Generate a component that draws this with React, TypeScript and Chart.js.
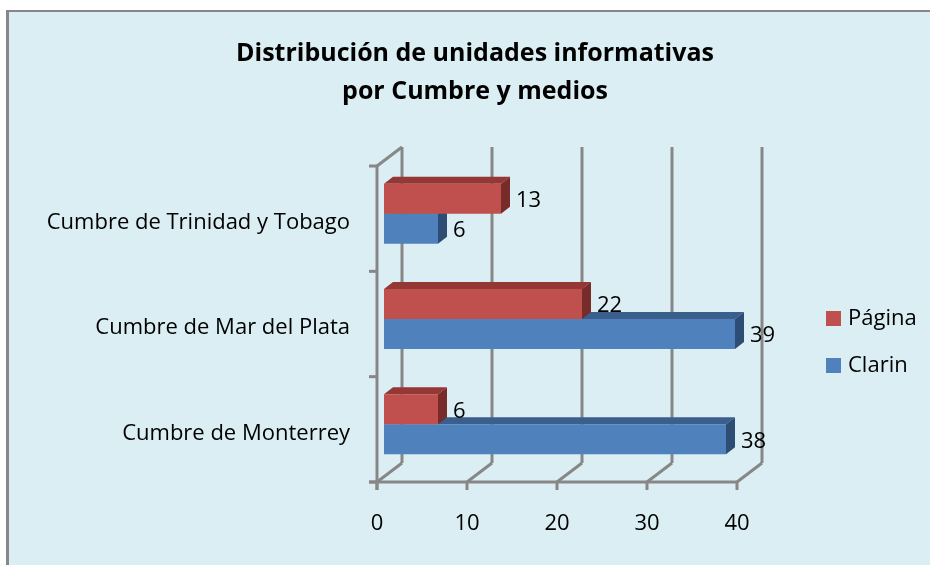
import React, { useEffect, useRef } from 'react';
import { Chart, registerables } from 'chart.js';

Chart.register(...registerables);

// ---- data ----
const categories = ['Cumbre de Trinidad y Tobago', 'Cumbre de Mar del Plata', 'Cumbre de Monterrey'];
const seriesNames = ['Página', 'Clarin'];
const paginaValues = [13, 22, 6];
const clarinValues = [6, 39, 38];
const xTicks = [0, 10, 20, 30, 40];
const titleLines = ['Distribución de unidades informativas', 'por Cumbre y medios'];

// ---- styles ----
const FONT = '"Open Sans", "Noto Sans", sans-serif';
const BG = '#DAEEF3';
const GRID = '#878787';
const FRONT_DX = -7;
const FRONT_DY = 5;
const DEPTH_DX = 25;
const DEPTH_DY = -19;
const BAR_DX = 9;
const BAR_DY = -7;
const faces = [
  { front: '#C0504D', top: '#953735', side: '#772C2A' },
  { front: '#4F81BD', top: '#3B5F8C', side: '#2E4D74' },
];

const framePlugin = {
  id: 'frame3d',
  beforeDraw(chart: any) {
    const ctx = chart.ctx;
    const W = chart.width;
    const H = chart.height;
    ctx.save();
    ctx.fillStyle = '#FFFFFF';
    ctx.fillRect(0, 0, W, H);
    ctx.fillStyle = BG;
    ctx.fillRect(9, 12, W - 9, H - 12);
    ctx.fillStyle = '#878787';
    ctx.fillRect(6, 10, 3, H - 10);
    ctx.fillRect(6, 10, W - 6, 2);

    // title
    ctx.fillStyle = '#000';
    ctx.font = `bold 25px ${FONT}`;
    ctx.textAlign = 'center';
    ctx.textBaseline = 'middle';
    ctx.fillText(titleLines[0], 475, 54);
    ctx.fillText(titleLines[1], 475, 92);

    // legend
    ctx.font = `22px ${FONT}`;
    ctx.textAlign = 'left';
    const ds = chart.data.datasets;
    const ly = [311, 358];
    ds.forEach((d: any, i: number) => {
      ctx.fillStyle = d.backgroundColor;
      ctx.fillRect(826, ly[i], 15, 15);
      ctx.fillStyle = '#000';
      ctx.fillText(d.label, 848, ly[i] + 8);
    });
    ctx.restore();
  },
  beforeDatasetsDraw(chart: any) {
    const ctx = chart.ctx;
    const xs = chart.scales.x;
    const area = chart.chartArea;
    const fx = (v: number) => xs.getPixelForValue(v) + FRONT_DX;
    const fb = area.bottom + FRONT_DY;
    const ft = area.top + FRONT_DY;
    ctx.save();
    ctx.strokeStyle = GRID;
    ctx.lineWidth = 3;
    ctx.lineCap = 'butt';
    const line = (x1: number, y1: number, x2: number, y2: number) => {
      ctx.beginPath();
      ctx.moveTo(x1, y1);
      ctx.lineTo(x2, y2);
      ctx.stroke();
    };
    // back wall gridlines + floor diagonals + front ticks
    xTicks.forEach((v) => {
      const x = fx(v);
      line(x + DEPTH_DX, ft + DEPTH_DY, x + DEPTH_DX, fb + DEPTH_DY);
      line(x, fb, x + DEPTH_DX, fb + DEPTH_DY);
      line(x, fb, x, fb + 8);
    });
    // front x axis
    line(fx(xTicks[0]) - 8, fb, fx(xTicks[xTicks.length - 1]), fb);
    // left wall
    const x0 = fx(xTicks[0]);
    line(x0, ft, x0, fb + 8);
    line(x0, ft, x0 + DEPTH_DX, ft + DEPTH_DY);
    const n = categories.length;
    const band = (area.bottom - area.top) / n;
    for (let k = 0; k <= n; k++) {
      const y = area.top + k * band + FRONT_DY;
      line(x0 - 8, y, x0, y);
    }

    // bar top and side faces (lower series first)
    const order = [1, 0];
    order.forEach((di) => {
      const meta = chart.getDatasetMeta(di);
      meta.data.forEach((bar: any) => {
        const p = bar.getProps(['x', 'y', 'base', 'height'], true);
        const x0b = p.base;
        const x1 = p.x;
        const yt = p.y - p.height / 2;
        const yb = p.y + p.height / 2;
        ctx.fillStyle = faces[di].top;
        ctx.beginPath();
        ctx.moveTo(x0b, yt);
        ctx.lineTo(x1, yt);
        ctx.lineTo(x1 + BAR_DX, yt + BAR_DY);
        ctx.lineTo(x0b + BAR_DX, yt + BAR_DY);
        ctx.closePath();
        ctx.fill();
        ctx.fillStyle = faces[di].side;
        ctx.beginPath();
        ctx.moveTo(x1, yt);
        ctx.lineTo(x1 + BAR_DX, yt + BAR_DY);
        ctx.lineTo(x1 + BAR_DX, yb + BAR_DY);
        ctx.lineTo(x1, yb);
        ctx.closePath();
        ctx.fill();
      });
    });
    ctx.restore();
  },
  afterDatasetsDraw(chart: any) {
    const ctx = chart.ctx;
    ctx.save();
    ctx.fillStyle = '#000';
    ctx.font = `22px ${FONT}`;
    ctx.textAlign = 'left';
    ctx.textBaseline = 'middle';
    chart.data.datasets.forEach((d: any, di: number) => {
      const meta = chart.getDatasetMeta(di);
      meta.data.forEach((bar: any, i: number) => {
        const p = bar.getProps(['x', 'y'], true);
        ctx.fillText(String(d.data[i]), p.x + 15, p.y + 2);
      });
    });
    ctx.restore();
  },
};

export default function App() {
  const ref = useRef<HTMLCanvasElement | null>(null);
  useEffect(() => {
    document.body.style.margin = '0';
    document.body.style.overflow = 'hidden';
    const canvas = ref.current!;
    const chart = new Chart(canvas, {
      type: 'bar',
      data: {
        labels: categories,
        datasets: [
          { label: seriesNames[0], data: paginaValues, backgroundColor: faces[0].front, borderWidth: 0 },
          { label: seriesNames[1], data: clarinValues, backgroundColor: faces[1].front, borderWidth: 0 },
        ],
      },
      options: {
        indexAxis: 'y',
        responsive: false,
        animation: false,
        devicePixelRatio: 1,
        categoryPercentage: 0.57,
        barPercentage: 1,
        layout: { padding: { top: 161, right: 186, left: 0, bottom: 0 } },
        plugins: {
          legend: { display: false },
          title: { display: false },
          tooltip: { enabled: false },
        },
        scales: {
          x: {
            type: 'linear',
            min: 0,
            max: 40,
            afterBuildTicks: (scale: any) => {
              scale.ticks = xTicks.map((v) => ({ value: v }));
            },
            grid: { display: false, drawTicks: false },
            border: { display: false },
            ticks: {
              font: { family: FONT, size: 22 },
              color: '#000',
              padding: 34,
              labelOffset: FRONT_DX,
            },
            afterFit: (scale: any) => {
              scale.height = 88;
            },
          },
          y: {
            type: 'category',
            grid: { display: false, drawTicks: false },
            border: { display: false },
            ticks: {
              font: { family: FONT, size: 22 },
              color: '#000',
              padding: 34,
              labelOffset: 9,
            },
            afterFit: (scale: any) => {
              scale.width = 384;
            },
          },
        },
      } as any,
      plugins: [framePlugin],
    });
    return () => chart.destroy();
  }, []);
  return <canvas ref={ref} width={930} height={565} style={{ display: 'block', width: 930, height: 565 }} />;
}
